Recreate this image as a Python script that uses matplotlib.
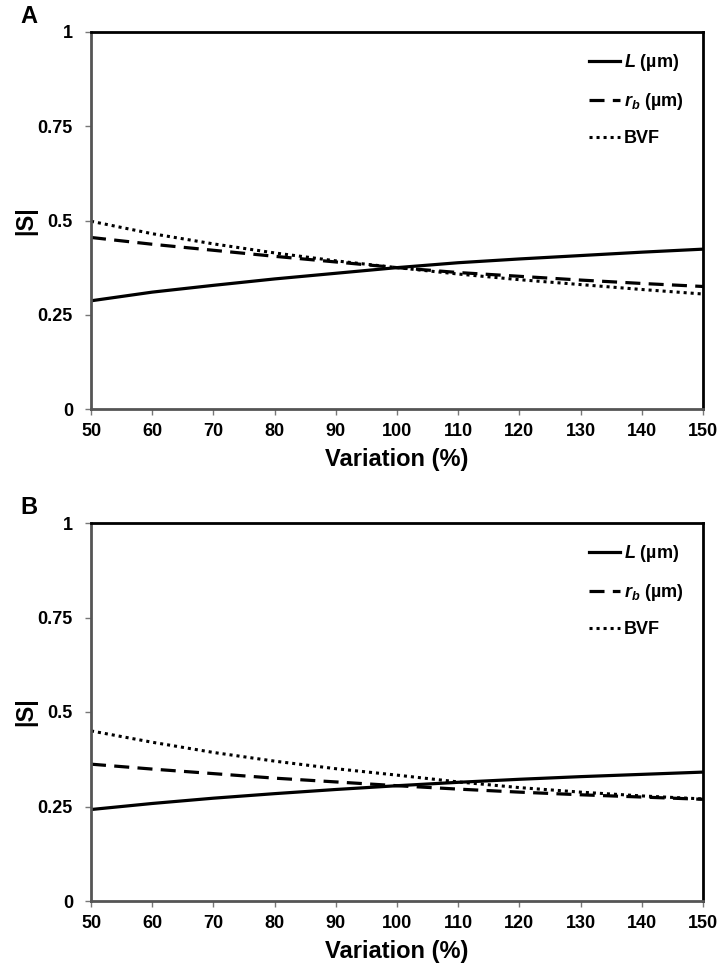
import numpy as np
import matplotlib as mpl
import matplotlib.pyplot as plt

mpl.use("agg")

# variation in percent
variation = [50, 60, 70, 80, 90, 100, 110, 120, 130, 140, 150]

# panel A
a_L = [0.287, 0.310, 0.328, 0.345, 0.360, 0.375, 0.388, 0.398, 0.407, 0.416, 0.424]
a_rb = [0.455, 0.437, 0.421, 0.405, 0.390, 0.375, 0.362, 0.352, 0.342, 0.333, 0.325]
a_bvf = [0.498, 0.465, 0.438, 0.414, 0.393, 0.375, 0.358, 0.343, 0.330, 0.317, 0.305]

# panel B
b_L = [0.242, 0.258, 0.272, 0.284, 0.295, 0.305, 0.314, 0.322, 0.329, 0.335, 0.341]
b_rb = [0.362, 0.349, 0.337, 0.325, 0.315, 0.305, 0.296, 0.288, 0.281, 0.275, 0.269]
b_bvf = [0.450, 0.420, 0.393, 0.370, 0.350, 0.333, 0.315, 0.300, 0.288, 0.278, 0.270]

labels = [r"$L$ (µm)", r"$r_b$ (µm)", "BVF"]
xticks = [50, 60, 70, 80, 90, 100, 110, 120, 130, 140, 150]
yticks = [0, 0.25, 0.5, 0.75, 1]
ytick_labels = ["0", "0.25", "0.5", "0.75", "1"]

plt.rcParams["font.family"] = "Liberation Sans"
plt.rcParams["font.weight"] = "bold"
plt.rcParams["mathtext.fontset"] = "custom"
plt.rcParams["mathtext.it"] = "Liberation Sans:italic:bold"
plt.rcParams["mathtext.rm"] = "Liberation Sans:bold"


def draw_panel(ax, L, rb, bvf, letter):
    _lw = 2.3
    ax.plot(variation, L, color="black", linewidth=_lw, linestyle="-",
            label=labels[0])
    ax.plot(variation, rb, color="black", linewidth=_lw,
            linestyle=(0, (4.7, 2.6)), label=labels[1])
    ax.plot(variation, bvf, color="black", linewidth=2.2,
            linestyle=(0, (1, 1.3)), label=labels[2])

    ax.set_xlim(50, 150)
    ax.set_ylim(0, 1)
    ax.set_xticks(xticks)
    ax.set_yticks(yticks)
    ax.set_yticklabels(ytick_labels)
    ax.tick_params(labelsize=13, direction="out", length=4, width=1,
                   color="#777777", pad=6)
    ax.tick_params(axis="y", pad=9)
    for side in ["top", "right"]:
        ax.spines[side].set_linewidth(2.0)
        ax.spines[side].set_color("black")
    for side in ["left", "bottom"]:
        ax.spines[side].set_linewidth(2.0)
        ax.spines[side].set_color("#555555")

    ax.set_xlabel("Variation (%)", fontsize=17, fontweight="bold", labelpad=6)
    ax.set_ylabel("|S|", fontsize=17, fontweight="bold", labelpad=0)

    leg = ax.legend(loc="upper right", frameon=False, fontsize=13,
                    handlelength=1.7, handletextpad=0.2, labelspacing=1.0,
                    borderaxespad=0.7)
    for t in leg.get_texts():
        t.set_fontweight("bold")

    ax.text(-0.115, 1.04, letter, transform=ax.transAxes, fontsize=17,
            fontweight="bold", ha="left", va="center")


fig = plt.figure(figsize=(7.18, 9.68), dpi=100)
ax_a = fig.add_axes([91 / 718, 1 - 409 / 968, 612 / 718, 377 / 968])
ax_b = fig.add_axes([91 / 718, 1 - 901 / 968, 612 / 718, 378 / 968])

draw_panel(ax_a, a_L, a_rb, a_bvf, "A")
draw_panel(ax_b, b_L, b_rb, b_bvf, "B")

fig.savefig("out.png", dpi=100)
